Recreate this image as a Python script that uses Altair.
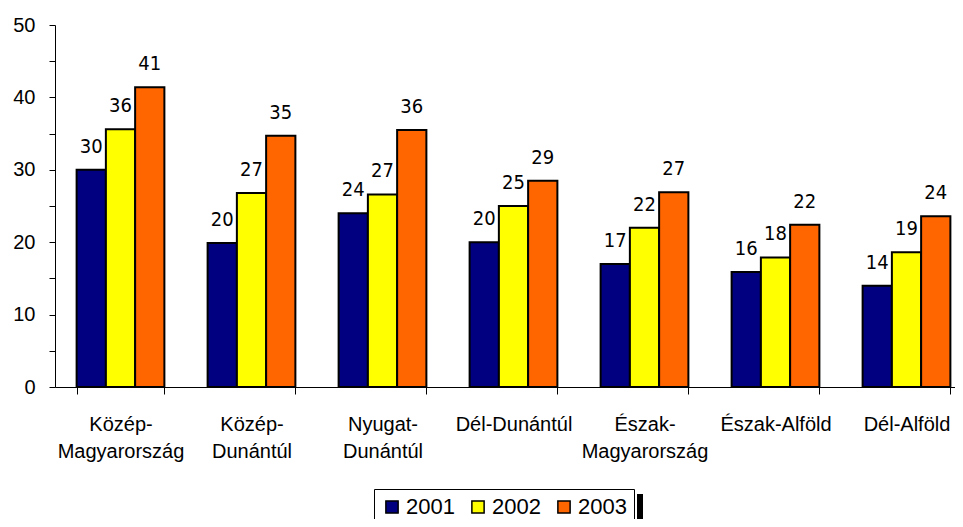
import json
import altair as alt
import pandas as pd

regions = ["Közép-Magyarország", "Közép-Dunántúl", "Nyugat-Dunántúl", "Dél-Dunántúl",
           "Észak-Magyarország", "Észak-Alföld", "Dél-Alföld"]
region_lines = [["Közép-", "Magyarország"], ["Közép-", "Dunántúl"], ["Nyugat-", "Dunántúl"],
                ["Dél-Dunántúl"], ["Észak-", "Magyarország"], ["Észak-Alföld"], ["Dél-Alföld"]]
years = ["2001", "2002", "2003"]
values_2001 = [30.0, 19.9, 24.0, 20.0, 17.0, 15.9, 14.0]
values_2002 = [35.6, 26.8, 26.6, 25.0, 22.0, 17.9, 18.6]
values_2003 = [41.4, 34.7, 35.5, 28.5, 26.9, 22.4, 23.6]
labels_2001 = ["30", "20", "24", "20", "17", "16", "14"]
labels_2002 = ["36", "27", "27", "25", "22", "18", "19"]
labels_2003 = ["41", "35", "36", "29", "27", "22", "24"]
colors = ["#000080", "#FFFF00", "#FF6600"]
y_ticks = [0, 5, 10, 15, 20, 25, 30, 35, 40, 45, 50]

rows = []
for year, vals, labs in zip(years, [values_2001, values_2002, values_2003],
                            [labels_2001, labels_2002, labels_2003]):
    for r, v, l in zip(regions, vals, labs):
        rows.append({"region": r, "year": year, "value": v, "label": l})
df = pd.DataFrame(rows)

label_map = json.dumps(dict(zip(regions, region_lines)), ensure_ascii=False)

x = alt.X(
    "region:N", sort=regions,
    scale=alt.Scale(range=[0, 917], paddingInner=0.33, paddingOuter=0.165),
    axis=alt.Axis(
        title=None, labelExpr=label_map + "[datum.label]", labelAngle=0,
        labelFont="Liberation Sans", labelFontSize=20, labelColor="black",
        labelLineHeight=27, labelBaseline="top", labelOverlap=False, labelLimit=300,
        tickBand="extent", tickSize=7, labelPadding=20,
        domainColor="black", tickColor="black", domainWidth=1, tickWidth=1,
    ),
)
xo = alt.XOffset("year:N", sort=years, scale=alt.Scale(paddingInner=0, paddingOuter=0))
y = alt.Y(
    "value:Q",
    scale=alt.Scale(domain=[0, 50], nice=False),
    axis=alt.Axis(
        title=None, values=y_ticks, labelExpr="datum.value % 10 == 0 ? datum.label : ''",
        labelFont="Liberation Sans", labelFontSize=20, labelColor="black",
        tickSize=6, labelPadding=14, grid=False,
        domainColor="black", tickColor="black",
    ),
)

bars = alt.Chart(df).mark_bar(stroke="black", strokeWidth=2).encode(
    x=x, xOffset=xo, y=y,
    color=alt.Color(
        "year:N", sort=years,
        scale=alt.Scale(domain=years, range=colors),
        legend=alt.Legend(
            orient="none", legendX=319, legendY=464, direction="horizontal", title=None,
            strokeColor="black", fillColor="white", padding=7,
            symbolType="square", symbolSize=150, symbolStrokeColor="black",
            symbolStrokeWidth=1.5, symbolOpacity=1,
            labelFont="Liberation Sans", labelFontSize=22, labelColor="black",
            labelOffset=3, columnPadding=12,
        ),
    ),
)

texts = alt.Chart(df).mark_text(
    font="DejaVu Sans Condensed", fontSize=20, baseline="alphabetic", dy=-17, color="black"
).encode(x=x, xOffset=xo, y=y, text="label:N")

shadow = alt.Chart(df).mark_rule(color="black", strokeWidth=6).encode(
    x=alt.value(585), y=alt.value(469), y2=alt.value(515)
)

chart = alt.layer(bars, texts, shadow).properties(
    width=900, height=362,
    autosize=alt.AutoSizeParams(type="none"),
    padding={"left": 47, "top": 17, "right": 0, "bottom": 132},
).configure_view(strokeWidth=0)

chart.save("out.html", embed_options={"renderer": "svg", "actions": False})
